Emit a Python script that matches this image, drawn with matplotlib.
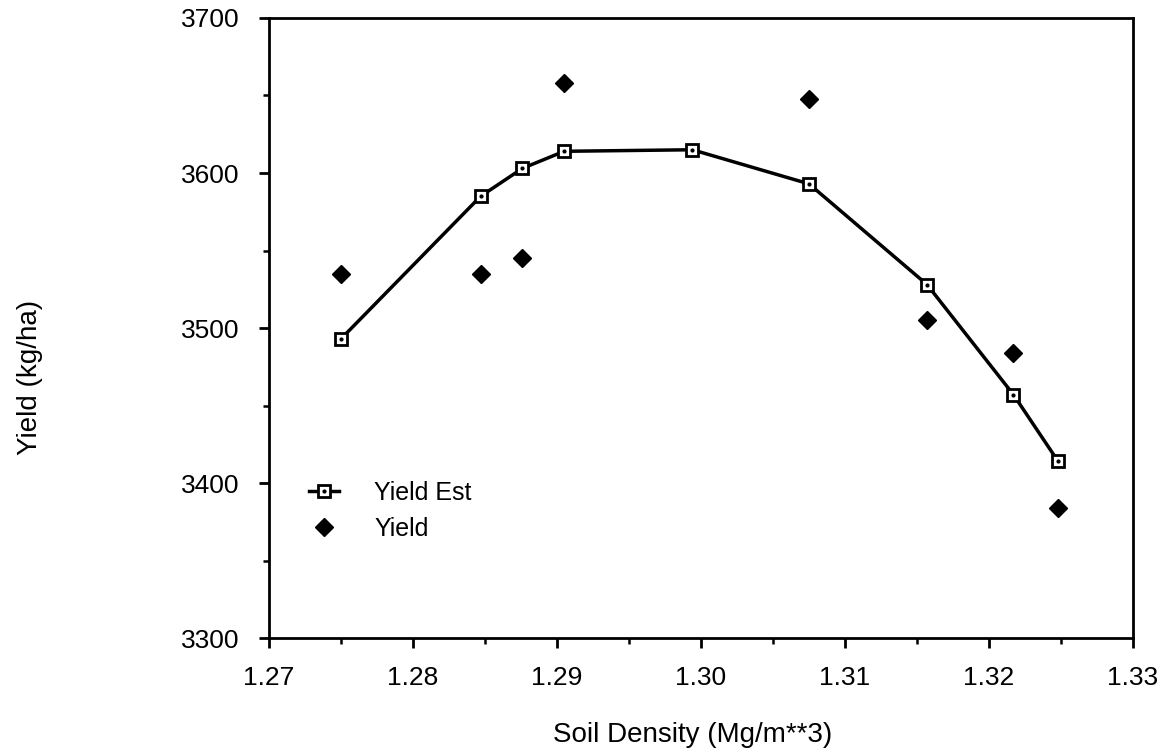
import matplotlib
matplotlib.use("Agg")
import matplotlib.pyplot as plt
from matplotlib.ticker import MultipleLocator, FormatStrFormatter

plt.rcParams['font.family'] = ['Liberation Sans', 'DejaVu Sans']

# Data
density_est = [1.275, 1.2847, 1.2876, 1.2905, 1.2994, 1.3075, 1.3157, 1.3217, 1.3248]
yield_est = [3493, 3585, 3603, 3614, 3615, 3593, 3528, 3457, 3414]
density_obs = [1.275, 1.2847, 1.2876, 1.2905, 1.3075, 1.3157, 1.3217, 1.3248]
yield_obs = [3535, 3535, 3545, 3658, 3648, 3505, 3484, 3384]

x_ticks = [1.27, 1.28, 1.29, 1.30, 1.31, 1.32, 1.33]
y_ticks = [3300, 3400, 3500, 3600, 3700]

fig = plt.figure(figsize=(11.68, 7.53), dpi=100)
ax = fig.add_axes([0.2303, 0.1527, 0.7397, 0.8234])

line_est, = ax.plot(density_est, yield_est, color='black', lw=2.5,
                    marker='s', ms=9, mfc='white', mec='black', mew=2.0,
                    zorder=3)
dots_est, = ax.plot(density_est, yield_est, ls='none', marker='o', ms=2,
                    color='black', zorder=4)
pts_obs, = ax.plot(density_obs, yield_obs, ls='none', marker='D', ms=9,
                   color='black', zorder=3)

ax.set_xlim(1.27, 1.33)
ax.set_ylim(3300, 3700)
ax.set_xticks(x_ticks)
ax.set_yticks(y_ticks)
ax.xaxis.set_major_formatter(FormatStrFormatter('%.2f'))
ax.xaxis.set_minor_locator(MultipleLocator(0.005))
ax.yaxis.set_minor_locator(MultipleLocator(50))

for s in ax.spines.values():
    s.set_linewidth(2.0)

ax.tick_params(axis='both', which='major', direction='out', length=7,
               width=2.0, labelsize=19)
ax.tick_params(axis='x', which='major', pad=13)
ax.tick_params(axis='y', which='major', pad=14)
ax.tick_params(axis='both', which='minor', direction='out', length=4,
               width=1.8)

ax.set_xlabel('Soil Density (Mg/m**3)', fontsize=20)
ax.set_ylabel('Yield (kg/ha)', fontsize=20)
ax.xaxis.set_label_coords(0.49, -0.135)
ax.yaxis.set_label_coords(-0.262, 0.42)

leg = ax.legend([(line_est, dots_est), pts_obs], ['Yield Est', 'Yield'],
                loc='lower left', bbox_to_anchor=(0.035, 0.14),
                frameon=False, fontsize=18, handlelength=1.2,
                handletextpad=1.4, labelspacing=0.5, borderaxespad=0)

fig.savefig('out.png', dpi=100)
